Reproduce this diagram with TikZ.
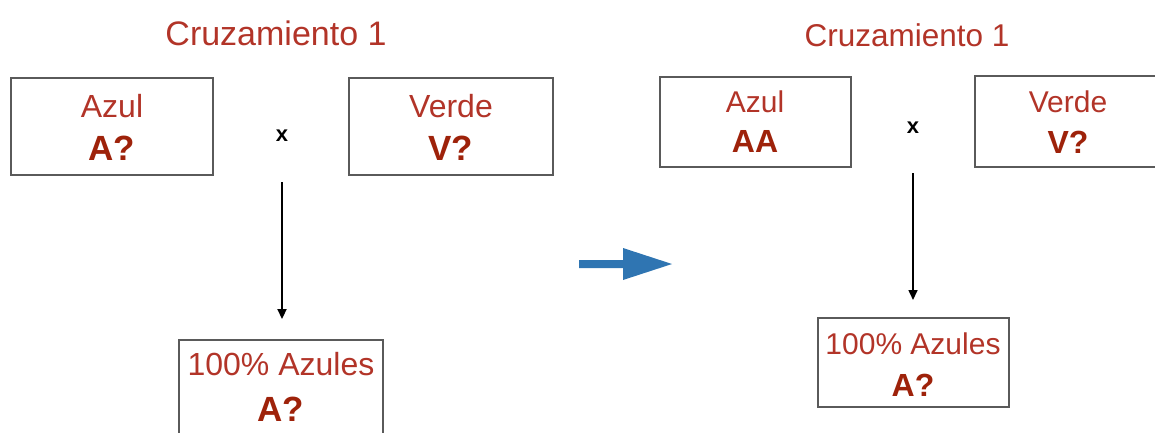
\documentclass[tikz,border=0pt]{standalone}
\usepackage{fontspec}
\setmainfont{Liberation Sans}
\usetikzlibrary{arrows.meta}
\definecolor{tred}{RGB}{178,52,40}
\definecolor{bred}{RGB}{158,34,10}
\definecolor{bline}{RGB}{90,90,90}
\definecolor{ablue}{RGB}{47,117,178}
\begin{document}
\begin{tikzpicture}[x=1pt,y=-1pt,
  box/.style={draw=bline,line width=1.1pt,inner sep=0pt},
  ltxt/.style={anchor=base,text=tred,inner sep=0pt,font=\fontsize{#1}{#1}\selectfont},
  btxt/.style={anchor=base,text=bred,inner sep=0pt,font=\fontsize{#1}{#1}\selectfont\bfseries},
  cross/.style={anchor=center,inner sep=0pt,font=\fontsize{22}{22}\selectfont\bfseries},
  down/.style={draw=black,-{Triangle[width=9pt,length=10pt]}}
]
\clip (0,0) rectangle (1155,432);
% ---------- left ----------
\node[ltxt=34] (t1) at (276,45) {Cruzamiento 1};
\node[box,minimum width=202pt,minimum height=97pt] (bA1) at (112,126.5) {};
\node[ltxt=32] (lA1) at (112,117) {Azul};
\node[btxt=35] (gA1) at (112,160) {A?};
\node[box,minimum width=204pt,minimum height=97pt] (bV1) at (451,126.5) {};
\node[ltxt=32] (lV1) at (451,117) {Verde};
\node[btxt=35] (gV1) at (451,160) {V?};
\node[cross] (x1) at (282,136) {x};
\node[box,minimum width=204pt,minimum height=110pt] (bR1) at (281,395) {};
\node[ltxt=32] (lR1) at (281,375) {100\% Azules};
\node[btxt=35] (gR1) at (281,421) {A?};
\coordinate (s1) at (282,182);
\coordinate (e1) at (282,319);
\draw[down,line width=2.2pt] (s1) -- (e1);
% ---------- blue arrow ----------
\fill[ablue] (579,260) -- (623,260) -- (623,248) -- (672,264) -- (623,280) -- (623,268) -- (579,268) -- cycle;
% ---------- right ----------
\node[ltxt=31.5] (t2) at (907,46) {Cruzamiento 1};
\node[box,minimum width=191pt,minimum height=90pt] (bA2) at (755.5,122) {};
\node[ltxt=30] (lA2) at (755,112) {Azul};
\node[btxt=32] (gA2) at (755,152) {AA};
\node[box,minimum width=190pt,minimum height=91pt] (bV2) at (1070,121.5) {};
\node[ltxt=30] (lV2) at (1068,112) {Verde};
\node[btxt=32] (gV2) at (1068,153) {V?};
\node[cross] (x2) at (913,128) {x};
\node[box,minimum width=191pt,minimum height=89pt] (bR2) at (913.5,362.5) {};
\node[ltxt=30] (lR2) at (913,354) {100\% Azules};
\node[btxt=32] (gR2) at (913,396) {A?};
\coordinate (s2) at (913,173);
\coordinate (e2) at (913,300);
\draw[down,line width=1.6pt] (s2) -- (e2);
\end{tikzpicture}
\end{document}
